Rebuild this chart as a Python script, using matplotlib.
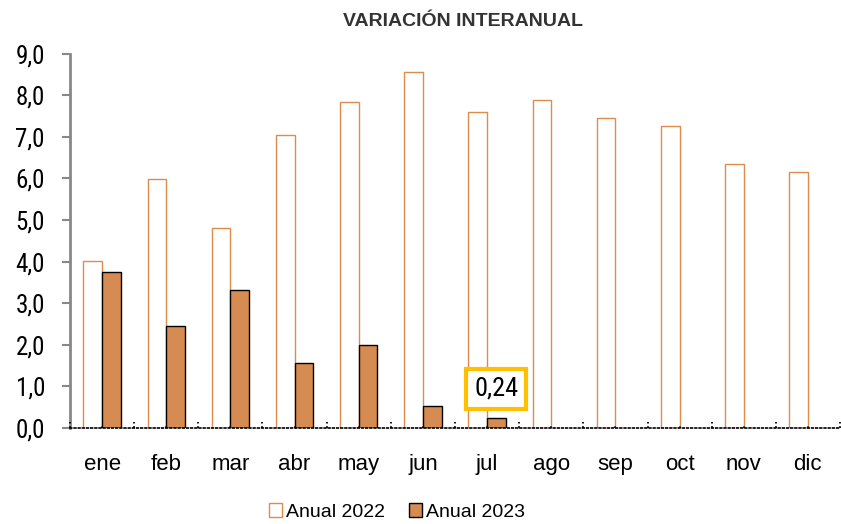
import matplotlib
matplotlib.use("Agg")
import matplotlib.pyplot as plt
import numpy as np
from matplotlib.patches import Patch

plt.rcParams['font.family'] = ['Liberation Sans', 'DejaVu Sans']
COND = ['Roboto Condensed', 'Liberation Sans', 'DejaVu Sans']

months = ["ene", "feb", "mar", "abr", "may", "jun", "jul", "ago", "sep", "oct", "nov", "dic"]
anual_2022 = [4.02, 5.98, 4.82, 7.05, 7.84, 8.55, 7.61, 7.89, 7.45, 7.25, 6.34, 6.15]
anual_2023 = [3.75, 2.46, 3.31, 1.56, 1.99, 0.54, 0.24]
yticks = [0, 1, 2, 3, 4, 5, 6, 7, 8, 9]
highlight_label = "0,24"

orange_edge = "#DE8C4E"
orange_fill = "#D68B52"

fig = plt.figure(figsize=(8.41, 5.24), dpi=100)
ax = fig.add_axes([70/841, 1-428/524, 770/841, (428-53.7)/524])

x = np.arange(len(months))
w = 0.29
ax.bar(x - w/2, anual_2022, width=w, color="white", edgecolor=orange_edge, linewidth=1.0, label="Anual 2022", zorder=2)
x23 = np.arange(len(anual_2023))
ax.bar(x23 + w/2, anual_2023, width=w, color=orange_fill, edgecolor="black", linewidth=1.0, label="Anual 2023", zorder=2)

ax.set_xlim(-0.5, len(months) - 0.5)
ax.set_ylim(0, 9)
ax.set_yticks(yticks)
ax.set_yticklabels([f"{v:.1f}".replace(".", ",") for v in yticks], fontsize=18, family=COND)
ax.set_xticks(x)
ax.set_xticklabels(months, fontsize=16)
ax.tick_params(axis="x", length=0, pad=19)
ax.tick_params(axis="y", length=6, width=1.5, color="#888888", pad=12)

for s in ["top", "right"]:
    ax.spines[s].set_visible(False)
ax.spines["left"].set_color("#888888")
ax.spines["left"].set_linewidth(2)
ax.spines["bottom"].set_linestyle((0, (1, 1.5)))
ax.spines["bottom"].set_color("black")
ax.spines["bottom"].set_linewidth(1.2)

# dotted category tick marks
bounds = np.arange(len(months) + 1) - 0.5
ax.vlines(bounds, 0, 0.14, colors="black", linestyles=(0, (1, 1.5)), linewidth=1.3, zorder=3, clip_on=False)
ax.vlines(x, 0, 0.08, colors="black", linestyles=(0, (1, 1.5)), linewidth=1.2, zorder=3, clip_on=False)

# highlighted label
ax.annotate(highlight_label, xy=(x23[-1] + w/2, anual_2023[-1]), xytext=(0, 21), textcoords="offset points",
            ha="center", va="center", fontsize=19, family=COND,
            bbox=dict(boxstyle="square,pad=0.3", facecolor="white", edgecolor="#FFC000", linewidth=3), zorder=5)

fig.text(463/841, 1-21/524, "VARIACIÓN INTERANUAL", ha="center", va="center", fontsize=14, fontweight="bold",
         color="#333333")

handles = [Patch(facecolor="white", edgecolor=orange_edge, label="Anual 2022"),
           Patch(facecolor=orange_fill, edgecolor="black", label="Anual 2023")]
fig.legend(handles=handles, loc="center", bbox_to_anchor=(397/841, 1-512/524), ncol=2, frameon=False,
           fontsize=14, handlelength=0.7, handleheight=0.7, handletextpad=0.2, columnspacing=1.2, borderpad=0)

fig.savefig("out.png", dpi=100)
